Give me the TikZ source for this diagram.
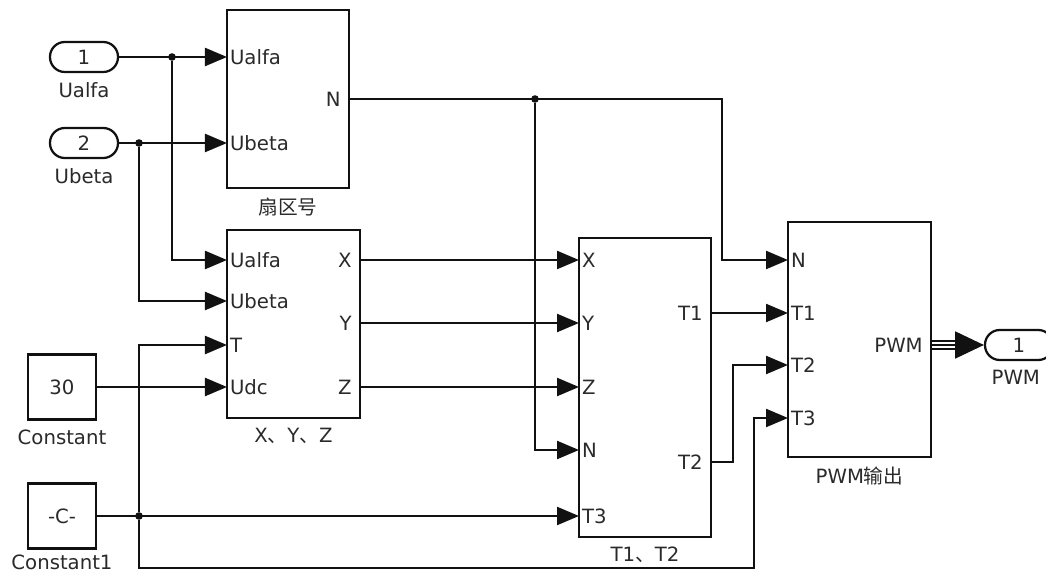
\documentclass[tikz,border=0pt]{standalone}
\usepackage{fontspec}
\setmainfont{DejaVu Sans}
\newfontfamily\cjk{Noto Sans CJK SC}
\usetikzlibrary{arrows.meta, positioning, fit, calc}
\definecolor{wirecolor}{HTML}{111111}
\definecolor{labelcolor}{HTML}{2A2A2A}

\begin{document}
\begin{tikzpicture}[
    x=0.025cm, y=-0.025cm,
    blk/.style={rectangle, draw=wirecolor, line width=1.6pt, inner sep=0pt,
                font=\fontsize{14}{16}\selectfont, text=labelcolor},
    pill/.style={blk, rounded corners=0.37cm, minimum width=1.7cm, minimum height=0.75cm},
    constblk/.style={blk, minimum width=1.7cm, minimum height=1.62cm},
    sig/.style={draw=wirecolor, line width=1.6pt, -{Triangle[length=0.55cm, width=0.45cm]}},
    busline/.style={draw=wirecolor, line width=0.8pt},
    inport/.style={anchor=west, inner sep=0pt, xshift=0.07cm,
                   font=\fontsize{14}{16}\selectfont, text=labelcolor},
    outport/.style={anchor=east, inner sep=0pt, xshift=-0.2cm,
                    font=\fontsize{14}{16}\selectfont, text=labelcolor},
    blklabel/.style={inner sep=0pt, font=\fontsize{14}{16}\selectfont, text=labelcolor},
    jdot/.style={circle, fill=wirecolor, inner sep=0pt, minimum size=0.19cm},
    node distance=0.22cm
]
    \useasboundingbox (0,0) rectangle (1046,576);

    % sources
    \node[pill] (in1) at (84,57) {1};
    \node[blklabel, below=of in1] (in1-lbl) {Ualfa};
    \node[pill] (in2) at (84,143) {2};
    \node[blklabel, below=of in2] (in2-lbl) {Ubeta};
    \node[constblk] (c30) at (62,387) {30};
    \node[blklabel, below=of c30] (c30-lbl) {Constant};
    \node[constblk] (c1) at (62,516) {-C-};
    \node[blklabel, below=0.12cm of c1] (c1-lbl) {Constant1};

    % sector block
    \node[blk, fit={(227,10) (349,188)}] (sec) {};
    \node[blklabel, below=of sec] (sec-lbl) {\cjk 扇区号};
    \coordinate (sec-ua) at (227,57);
    \coordinate (sec-ub) at (227,143);
    \coordinate (sec-n) at (349,99);
    \node[inport] at (sec-ua) {Ualfa};
    \node[inport] at (sec-ub) {Ubeta};
    \node[outport] at (sec-n) {N};

    % X, Y, Z block
    \node[blk, fit={(227,230) (360,418)}] (xyz) {};
    \node[blklabel, below=of xyz] (xyz-lbl) {X{\cjk 、}Y{\cjk 、}Z};
    \coordinate (xyz-ua) at (227,260);
    \coordinate (xyz-ub) at (227,301);
    \coordinate (xyz-t) at (227,345);
    \coordinate (xyz-udc) at (227,387);
    \coordinate (xyz-x) at (360,260);
    \coordinate (xyz-y) at (360,323);
    \coordinate (xyz-z) at (360,387);
    \node[inport] at (xyz-ua) {Ualfa};
    \node[inport] at (xyz-ub) {Ubeta};
    \node[inport] at (xyz-t) {T};
    \node[inport] at (xyz-udc) {Udc};
    \node[outport] at (xyz-x) {X};
    \node[outport] at (xyz-y) {Y};
    \node[outport] at (xyz-z) {Z};

    % T1, T2 block
    \node[blk, fit={(579,238) (711,537)}] (t12) {};
    \node[blklabel, below=of t12] (t12-lbl) {T1{\cjk 、}T2};
    \coordinate (t12-x) at (579,260);
    \coordinate (t12-y) at (579,323);
    \coordinate (t12-z) at (579,387);
    \coordinate (t12-n) at (579,450);
    \coordinate (t12-t3) at (579,516);
    \coordinate (t12-t1) at (711,313);
    \coordinate (t12-t2) at (711,462);
    \node[inport] at (t12-x) {X};
    \node[inport] at (t12-y) {Y};
    \node[inport] at (t12-z) {Z};
    \node[inport] at (t12-n) {N};
    \node[inport] at (t12-t3) {T3};
    \node[outport] at (t12-t1) {T1};
    \node[outport] at (t12-t2) {T2};

    % PWM block
    \node[blk, fit={(788,222) (931,457)}] (pwm) {};
    \node[blklabel, below=of pwm] (pwm-lbl) {PWM{\cjk 输出}};
    \coordinate (pwm-n) at (788,260);
    \coordinate (pwm-t1) at (788,313);
    \coordinate (pwm-t2) at (788,365);
    \coordinate (pwm-t3) at (788,418);
    \coordinate (pwm-out) at (931,345);
    \node[inport] at (pwm-n) {N};
    \node[inport] at (pwm-t1) {T1};
    \node[inport] at (pwm-t2) {T2};
    \node[inport] at (pwm-t3) {T3};
    \node[outport] at (pwm-out) {PWM};

    \node[pill] (pwmo) at (1019,345) {1};
    \node[blklabel, below=of pwmo, xshift=-0.08cm] (pwmo-lbl) {PWM};

    % junctions and bends
    \node[jdot] (ja) at (172,57) {};
    \node[jdot] (jb) at (139,143) {};
    \node[jdot] (jc) at (139,516) {};
    \node[jdot] (jn) at (535,99) {};
    \coordinate (bendn) at (722,180);
    \coordinate (bend2) at (733,400);
    \coordinate (bend3) at (754,568);

    % wires
    \draw[sig] (in1.east) -- (sec-ua);
    \draw[sig] (ja) |- (xyz-ua);
    \draw[sig] (in2.east) -- (sec-ub);
    \draw[sig] (jb) |- (xyz-ub);
    \draw[sig] (c30.east) -- (xyz-udc);
    \draw[sig] (c1.east) -- (t12-t3);
    \draw[sig] (jc) |- (xyz-t);
    \draw[sig] (jc) |- (bend3) |- (pwm-t3);
    \draw[sig] (sec-n) -| (bendn) |- (pwm-n);
    \draw[sig] (jn) |- (t12-n);
    \draw[sig] (xyz-x) -- (t12-x);
    \draw[sig] (xyz-y) -- (t12-y);
    \draw[sig] (xyz-z) -- (t12-z);
    \draw[sig] (t12-t1) -- (pwm-t1);
    \draw[sig] (t12-t2) -| (bend2) |- (pwm-t2);

    % bus output
    \draw[busline, -{Triangle[length=0.72cm, width=0.68cm]}] (pwm-out) -- (pwmo.west);
    \foreach \d in {-4,4}
        \draw[busline] ($(pwm-out)+(0,\d)$) -- ++(28,0);
\end{tikzpicture}
\end{document}
